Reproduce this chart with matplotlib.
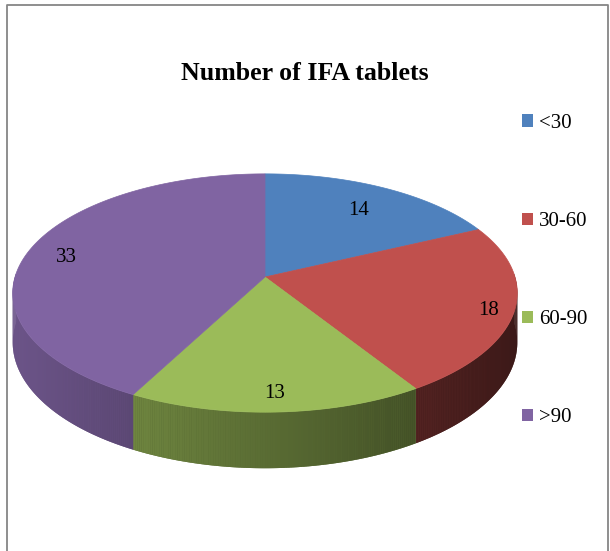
import numpy as np
import matplotlib
matplotlib.use('Agg')
import matplotlib.pyplot as plt
from matplotlib.patches import Polygon, Patch
from matplotlib.collections import PolyCollection
from matplotlib.colors import to_rgb

# data
categories = ['<30', '30-60', '60-90', '>90']
counts = [14, 18, 13, 33]
colors = ['#4F81BD', '#C0504D', '#9BBB59', '#8064A2']
title = 'Number of IFA tablets'

# pie geometry in pixel space (Excel-like 3D pie with slight perspective)
cx, cy = 265, 277       # where the slices meet
A, B = 250, 117         # half width / half height of the top face
k = 0.1345              # perspective strength
depth = 48.5            # thickness of the pie
label_r = [0.76, 0.9, 0.86, 0.84]   # how far out each data label sits
serif = 'Liberation Serif'


def project(theta, r=1.0, drop=0.0):
    w = 1 + k * r * np.sin(theta)
    x = cx + A * r * np.cos(theta) / w
    y = cy - B * r * np.sin(theta) / w + drop / w
    return x, y


def shade(c, t):
    return tuple(np.array(to_rgb(c)) * (0.58 - 0.28 * np.cos(t)))


fig = plt.figure(figsize=(6.1, 5.51), dpi=100)
ax = fig.add_axes([0, 0, 1, 1])
ax.set_xlim(0, 610)
ax.set_ylim(551, 0)
ax.axis('off')

# chart frame
ax.plot([6.5, 6.5, 607.5, 607.5], [551, 4.5, 4.5, 551], color='#868686', lw=1.3)

total = sum(counts)
ends = 90 - 360 * np.cumsum(counts) / total
starts = np.concatenate([[90], ends[:-1]])

# side walls, shaded from left (light) to right (dark)
for s, e, c in zip(starts, ends, colors):
    th = np.radians(np.linspace(s, e, int(abs(s - e) * 2) + 2))
    th = th[np.sin(th) < 0.03]
    if len(th) < 2:
        continue
    xt, yt = project(th)
    xb, yb = project(th, drop=depth)
    # solid base so no gaps show between the shaded strips
    outline = list(zip(xt, yt)) + list(zip(xb[::-1], yb[::-1]))
    ax.add_patch(Polygon(outline, closed=True, facecolor=shade(c, th.mean()),
                         edgecolor='none'))
    quads, fcs = [], []
    for i in range(len(th) - 1):
        quads.append([(xt[i], yt[i]), (xt[i + 1], yt[i + 1]),
                      (xb[i + 1], yb[i + 1]), (xb[i], yb[i])])
        fcs.append(shade(c, (th[i] + th[i + 1]) / 2))
    ax.add_collection(PolyCollection(quads, facecolors=fcs, edgecolors='none',
                                     linewidths=0))

# top face
for s, e, c in zip(starts, ends, colors):
    th = np.radians(np.linspace(s, e, 200))
    xs, ys = project(th)
    pts = [(cx, cy)] + list(zip(xs, ys))
    ax.add_patch(Polygon(pts, closed=True, facecolor=c, edgecolor=c, lw=0.5))

# data labels
for s, e, v, r in zip(starts, ends, counts, label_r):
    mid = np.radians((s + e) / 2)
    lx, ly = project(mid, r=r)
    ax.text(lx, ly + 3, str(v), ha='center', va='center', fontsize=15, family=serif)

ax.text(305, 74, title, ha='center', va='center', fontsize=18.6,
        fontweight='bold', family=serif)

handles = [Patch(facecolor=c, edgecolor='none') for c in colors]
ax.legend(handles, categories, loc='upper left', bbox_to_anchor=(522, 114),
          bbox_transform=ax.transData, frameon=False, borderpad=0,
          prop={'family': serif, 'size': 15}, handlelength=0.55,
          handleheight=0.55, handletextpad=0.25, labelspacing=3.8,
          borderaxespad=0)

fig.savefig('out.png', dpi=100)
